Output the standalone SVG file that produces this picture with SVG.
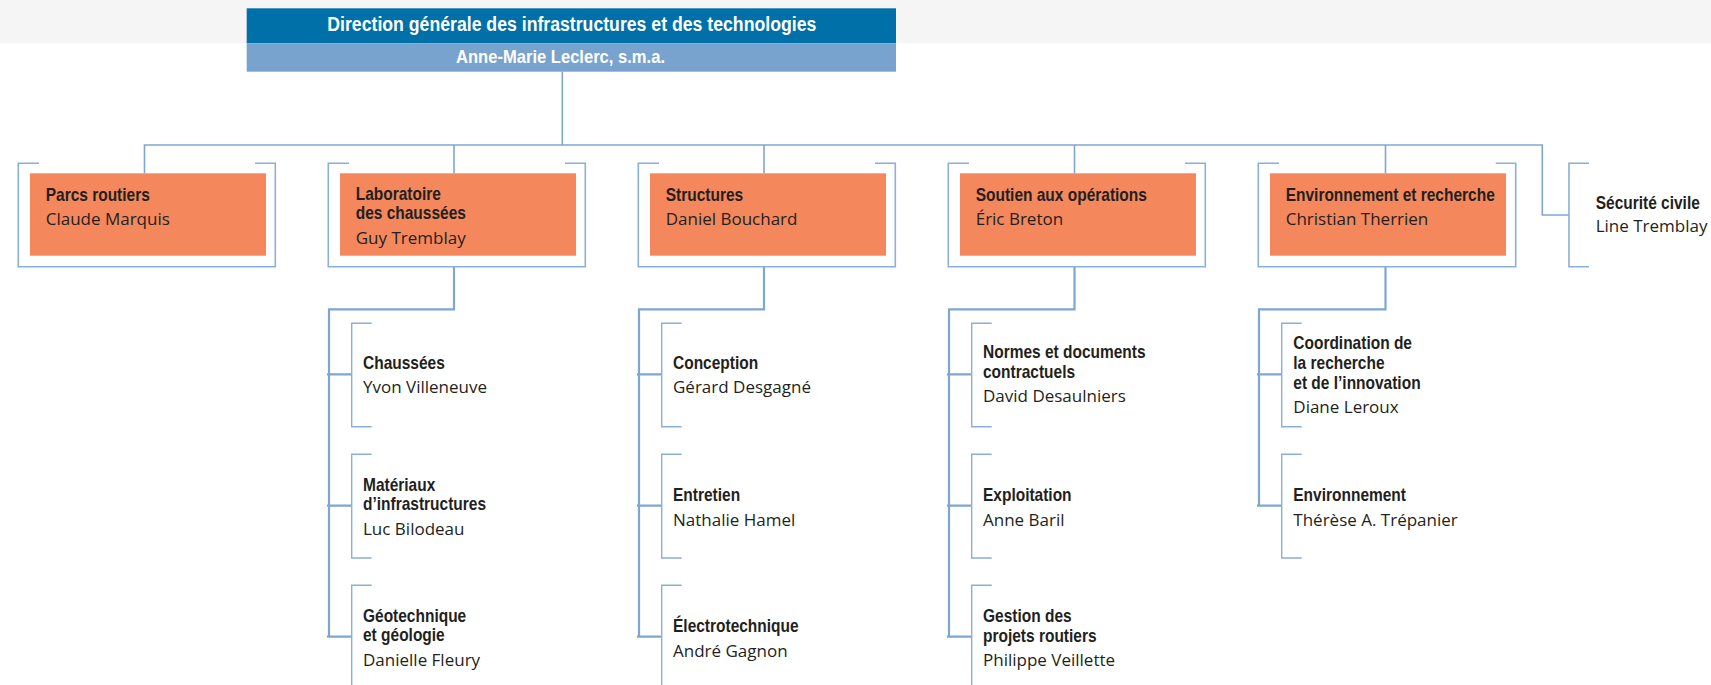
<svg xmlns="http://www.w3.org/2000/svg" width="1711" height="685" viewBox="0 0 1711 685">
<defs>
<style>
.bg{fill:#ffffff}
.band{fill:#f5f5f5}
.hd1{fill:#0071a8}
.hd2{fill:#78a3cf}
.org{fill:#f4885c}
.ln{fill:none;stroke:#7ea6d3;stroke-width:1.6}
.tk{fill:none;stroke:#7ea6d3;stroke-width:2.2}
.fr{fill:none;stroke:#8aafd8;stroke-width:1.6}
.br{fill:none;stroke:#8aafd8;stroke-width:1.4}
.ht{font-family:"Liberation Sans",Arial,sans-serif;font-weight:bold;fill:#ffffff}
.b{font-family:"Liberation Sans",Arial,sans-serif;font-weight:bold;font-size:17.5px;fill:#231f20}
.n{font-family:"Open Sans","Noto Sans",sans-serif;font-size:17px;fill:#231f20}
</style>
</defs>
<rect class="bg" x="0" y="0" width="1711" height="685"/>
<rect class="band" x="0" y="0" width="1711" height="43.3"/>

<g id="connectors">
<path class="ln" d="M562.3 71.7 V145"/>
<path class="ln" d="M144.5 173.3 V145 H1542.3 V215 H1569"/>
<path class="ln" d="M454 145 V173.3"/>
<path class="ln" d="M764 145 V173.3"/>
<path class="ln" d="M1074.5 145 V173.3"/>
<path class="ln" d="M1385.5 145 V173.3"/>
<!-- Laboratoire children -->
<path class="tk" d="M454 266.7 V309.3 H329 V636.7"/>
<path class="tk" d="M327 374.3 H351.7 M327 505.7 H351.7 M327 636.7 H351.7"/>
<!-- Structures children -->
<path class="tk" d="M764 266.7 V309.3 H639 V636.7"/>
<path class="tk" d="M637 374.3 H661.7 M637 505.7 H661.7 M637 636.7 H661.7"/>
<!-- Soutien children -->
<path class="tk" d="M1074.5 266.7 V309.3 H949 V636.7"/>
<path class="tk" d="M947 374.3 H971.7 M947 505.7 H971.7 M947 636.7 H971.7"/>
<!-- Environnement children -->
<path class="tk" d="M1385.5 266.7 V309.3 H1259 V505.7"/>
<path class="tk" d="M1257 374.3 H1281.7 M1257 505.7 H1281.7"/>
</g>

<g id="dg">
<rect class="hd1" x="246.7" y="8.3" width="649.3" height="35"/>
<rect class="hd2" x="246.7" y="43.3" width="649.3" height="28.4"/>
<text class="ht" x="327.3" y="31" font-size="19.5" textLength="489" lengthAdjust="spacingAndGlyphs">Direction générale des infrastructures et des technologies</text>
<text class="ht" x="456" y="63.3" font-size="18.5" textLength="209" lengthAdjust="spacingAndGlyphs">Anne-Marie Leclerc, s.m.a.</text>
</g>

<g id="parcs">
<path class="fr" d="M39 163.3 H18.3 V266.7 H275.3 V163.3 H255"/>
<rect class="org" x="30" y="173.3" width="236" height="82.4"/>
<text class="b" transform="translate(45.7 200.5) scale(0.885 1)">Parcs routiers</text>
<text class="n" x="45.7" y="225">Claude Marquis</text>
</g>

<g id="laboratoire">
<path class="fr" d="M349 163.3 H328.3 V266.7 H585.3 V163.3 H565"/>
<rect class="org" x="340" y="173.3" width="236" height="82.4"/>
<text class="b" transform="translate(355.7 199.5) scale(0.885 1)"><tspan x="0" y="0">Laboratoire</tspan><tspan x="0" y="20">des chaussées</tspan></text>
<text class="n" x="355.7" y="243.5">Guy Tremblay</text>
</g>

<g id="structures">
<path class="fr" d="M659 163.3 H638.3 V266.7 H895.3 V163.3 H875"/>
<rect class="org" x="650" y="173.3" width="236" height="82.4"/>
<text class="b" transform="translate(665.7 200.5) scale(0.885 1)">Structures</text>
<text class="n" x="665.7" y="225">Daniel Bouchard</text>
</g>

<g id="soutien">
<path class="fr" d="M969 163.3 H948.3 V266.7 H1205.3 V163.3 H1185"/>
<rect class="org" x="960" y="173.3" width="236" height="82.4"/>
<text class="b" transform="translate(975.7 200.5) scale(0.885 1)">Soutien aux opérations</text>
<text class="n" x="975.7" y="225">Éric Breton</text>
</g>

<g id="environnement-recherche">
<path class="fr" d="M1279 163.3 H1258.3 V266.7 H1515.7 V163.3 H1495.7"/>
<rect class="org" x="1270" y="173.3" width="236" height="82.4"/>
<text class="b" transform="translate(1285.7 200.5) scale(0.885 1)">Environnement et recherche</text>
<text class="n" x="1285.7" y="225">Christian Therrien</text>
</g>

<g id="securite-civile">
<path class="fr" d="M1589 163.3 H1569 V266.7 H1589"/>
<text class="b" transform="translate(1595.7 209) scale(0.885 1)">Sécurité civile</text>
<text class="n" x="1595.7" y="232.3">Line Tremblay</text>
</g>

<!-- Laboratoire children -->
<g id="chaussees">
<path class="br" d="M371.7 323.3 H351.7 V426.7 H371.7"/>
<text class="b" transform="translate(363 369.3) scale(0.885 1)">Chaussées</text>
<text class="n" x="363" y="393.3">Yvon Villeneuve</text>
</g>
<g id="materiaux">
<path class="br" d="M371.7 454.3 H351.7 V558 H371.7"/>
<text class="b" transform="translate(363 490.5) scale(0.885 1)"><tspan x="0" y="0">Matériaux</tspan><tspan x="0" y="20">d’infrastructures</tspan></text>
<text class="n" x="363" y="534.5">Luc Bilodeau</text>
</g>
<g id="geotechnique">
<path class="br" d="M371.7 585.3 H351.7 V690"/>
<text class="b" transform="translate(363 621.5) scale(0.885 1)"><tspan x="0" y="0">Géotechnique</tspan><tspan x="0" y="20">et géologie</tspan></text>
<text class="n" x="363" y="665.5">Danielle Fleury</text>
</g>

<!-- Structures children -->
<g id="conception">
<path class="br" d="M681.7 323.3 H661.7 V426.7 H681.7"/>
<text class="b" transform="translate(673 369.3) scale(0.885 1)">Conception</text>
<text class="n" x="673" y="393.3">Gérard Desgagné</text>
</g>
<g id="entretien">
<path class="br" d="M681.7 454.3 H661.7 V558 H681.7"/>
<text class="b" transform="translate(673 501.2) scale(0.885 1)">Entretien</text>
<text class="n" x="673" y="525.7">Nathalie Hamel</text>
</g>
<g id="electrotechnique">
<path class="br" d="M681.7 585.3 H661.7 V690"/>
<text class="b" transform="translate(673 632) scale(0.885 1)">Électrotechnique</text>
<text class="n" x="673" y="656.5">André Gagnon</text>
</g>

<!-- Soutien children -->
<g id="normes">
<path class="br" d="M991.7 323.3 H971.7 V426.7 H991.7"/>
<text class="b" transform="translate(983 358) scale(0.885 1)"><tspan x="0" y="0">Normes et documents</tspan><tspan x="0" y="20">contractuels</tspan></text>
<text class="n" x="983" y="401.5">David Desaulniers</text>
</g>
<g id="exploitation">
<path class="br" d="M991.7 454.3 H971.7 V558 H991.7"/>
<text class="b" transform="translate(983 501.2) scale(0.885 1)">Exploitation</text>
<text class="n" x="983" y="525.7">Anne Baril</text>
</g>
<g id="gestion-projets">
<path class="br" d="M991.7 585.3 H971.7 V690"/>
<text class="b" transform="translate(983 621.7) scale(0.885 1)"><tspan x="0" y="0">Gestion des</tspan><tspan x="0" y="20">projets routiers</tspan></text>
<text class="n" x="983" y="665.8">Philippe Veillette</text>
</g>

<!-- Environnement children -->
<g id="coordination">
<path class="br" d="M1301.7 323.3 H1281.7 V426.7 H1301.7"/>
<text class="b" transform="translate(1293.3 349) scale(0.885 1)"><tspan x="0" y="0">Coordination de</tspan><tspan x="0" y="20">la recherche</tspan><tspan x="0" y="40">et de l’innovation</tspan></text>
<text class="n" x="1293.3" y="413.3">Diane Leroux</text>
</g>
<g id="environnement">
<path class="br" d="M1301.7 454.3 H1281.7 V558 H1301.7"/>
<text class="b" transform="translate(1293.3 501.2) scale(0.885 1)">Environnement</text>
<text class="n" x="1293.3" y="525.7">Thérèse A. Trépanier</text>
</g>
</svg>
